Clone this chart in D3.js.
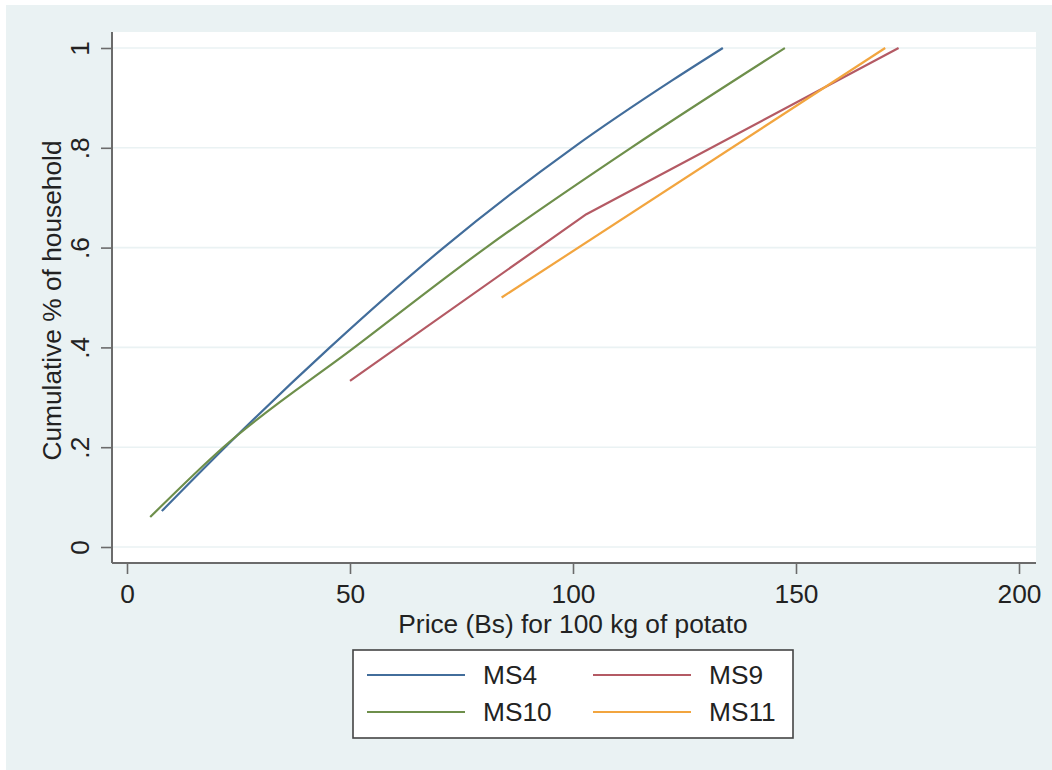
<!DOCTYPE html>
<html>
<head>
<meta charset="utf-8">
<script src="https://cdn.jsdelivr.net/npm/d3@7"></script>
<style>
  html, body { margin: 0; padding: 0; background: #ffffff; }
  svg { display: block; font-family: "Liberation Sans", Arial, Helvetica, sans-serif; }
</style>
</head>
<body>
<svg id="chart" width="1052" height="770"></svg>
<script>
// ---- data ----
const seriesNames = ["MS4", "MS9", "MS10", "MS11"];
const ms4Price = [7.8, 22, 45.5, 71, 100, 122.4, 133.6];
const ms4Cum   = [0.072, 0.2, 0.4, 0.6, 0.8, 0.936, 1.0];
const ms9Price = [50, 103, 173];
const ms9Cum   = [0.333, 0.667, 1.0];
const ms10Price = [5.2, 21.6, 51, 80.5, 113, 147.5];
const ms10Cum   = [0.06, 0.2, 0.4, 0.6, 0.8, 1.0];
const ms11Price = [84, 170];
const ms11Cum   = [0.5, 1.0];
const xTicks = [0, 50, 100, 150, 200];
const yTicks = [0, 0.2, 0.4, 0.6, 0.8, 1];
const yTickLabels = ["0", ".2", ".4", ".6", ".8", "1"];
const xTitle = "Price (Bs) for 100 kg of potato";
const yTitle = "Cumulative % of household";

const colors = { MS4: "#426d9b", MS9: "#b45a64", MS10: "#6e8f4b", MS11: "#f2a53f" };

const series = [
  { name: "MS4",  pts: ms4Price.map((x, i) => [x, ms4Cum[i]]),  smooth: true },
  { name: "MS10", pts: ms10Price.map((x, i) => [x, ms10Cum[i]]), smooth: true },
  { name: "MS9",  pts: ms9Price.map((x, i) => [x, ms9Cum[i]]),  smooth: false },
  { name: "MS11", pts: ms11Price.map((x, i) => [x, ms11Cum[i]]), smooth: false }
];

// ---- layout ----
const svg = d3.select("#chart");
const W = 1052, H = 770;
const bg = "#eaf2f3";
const plot = { left: 112, right: 1036, top: 32, bottom: 563 };
const FS = 26.3;

svg.append("rect").attr("x", 6).attr("y", 5).attr("width", W - 6).attr("height", H - 5).attr("fill", bg);
svg.append("rect").attr("x", plot.left).attr("y", plot.top)
  .attr("width", plot.right - plot.left).attr("height", plot.bottom - plot.top).attr("fill", "#ffffff");

const x = d3.scaleLinear().domain([0, 200]).range([127, 1019]);
const y = d3.scaleLinear().domain([0, 1]).range([547, 48]);

// gridlines
svg.append("g").selectAll("line").data(yTicks).join("line")
  .attr("x1", plot.left + 1).attr("x2", plot.right)
  .attr("y1", d => y(d)).attr("y2", d => y(d))
  .attr("stroke", bg).attr("stroke-width", 1.6);

// x axis
const xAxis = d3.axisBottom(x).tickValues(xTicks).tickSize(11).tickPadding(10).tickFormat(d3.format("d"));
const gx = svg.append("g").attr("transform", `translate(0,${plot.bottom})`).call(xAxis);
gx.select(".domain").remove();
gx.append("line").attr("x1", plot.left).attr("x2", plot.right).attr("y1", 0).attr("y2", 0)
  .attr("stroke", "#6b6b6b").attr("stroke-width", 2);
gx.selectAll(".tick line").attr("stroke", "#6b6b6b").attr("stroke-width", 1.6);
gx.selectAll(".tick text").attr("font-size", FS).attr("fill", "#222").attr("font-family", "Liberation Sans, Arial, sans-serif");

// y axis
const yAxis = d3.axisLeft(y).tickValues(yTicks).tickSize(11).tickPadding(0).tickFormat((d, i) => yTickLabels[i]);
const gy = svg.append("g").attr("transform", `translate(${plot.left},0)`).call(yAxis);
gy.select(".domain").remove();
gy.append("line").attr("x1", 0).attr("x2", 0).attr("y1", plot.top).attr("y2", plot.bottom)
  .attr("stroke", "#6b6b6b").attr("stroke-width", 2);
gy.selectAll(".tick line").attr("stroke", "#6b6b6b").attr("stroke-width", 1.6);
gy.selectAll(".tick text")
  .attr("font-size", FS).attr("fill", "#222").attr("font-family", "Liberation Sans, Arial, sans-serif")
  .attr("x", null).attr("dy", null)
  .attr("text-anchor", "middle")
  .attr("transform", "translate(-23,0) rotate(-90)");

// axis titles
svg.append("text").attr("x", (x(0) + x(200)) / 2).attr("y", 633)
  .attr("text-anchor", "middle").attr("font-size", FS).attr("fill", "#222").text(xTitle);
svg.append("text").attr("transform", `translate(61,${(plot.top + plot.bottom) / 2 + 3}) rotate(-90)`)
  .attr("text-anchor", "middle").attr("font-size", FS).attr("fill", "#222").text(yTitle);

// lines
const lineSmooth = d3.line().x(d => x(d[0])).y(d => y(d[1])).curve(d3.curveMonotoneX);
const lineStraight = d3.line().x(d => x(d[0])).y(d => y(d[1]));
svg.append("g").selectAll("path").data(series).join("path")
  .attr("d", d => (d.smooth ? lineSmooth : lineStraight)(d.pts))
  .attr("fill", "none")
  .attr("stroke", d => colors[d.name])
  .attr("stroke-width", 2.2)
  .attr("stroke-linejoin", "round");

// legend
const leg = svg.append("g");
leg.append("rect").attr("x", 353).attr("y", 650).attr("width", 440).attr("height", 88)
  .attr("fill", "#ffffff").attr("stroke", "#444").attr("stroke-width", 1.6);
const legItems = [
  { name: "MS4",  col: 0, row: 0 },
  { name: "MS9",  col: 1, row: 0 },
  { name: "MS10", col: 0, row: 1 },
  { name: "MS11", col: 1, row: 1 }
];
const colX = [367, 593], rowY = [675, 712];
const li = leg.selectAll("g.item").data(legItems).join("g").attr("class", "item");
li.append("line")
  .attr("x1", d => colX[d.col]).attr("x2", d => colX[d.col] + 98)
  .attr("y1", d => rowY[d.row]).attr("y2", d => rowY[d.row])
  .attr("stroke", d => colors[d.name]).attr("stroke-width", 2.2);
li.append("text")
  .attr("x", d => colX[d.col] + 116).attr("y", d => rowY[d.row] + 9)
  .attr("font-size", FS).attr("fill", "#222").text(d => d.name);
</script>
</body>
</html>
